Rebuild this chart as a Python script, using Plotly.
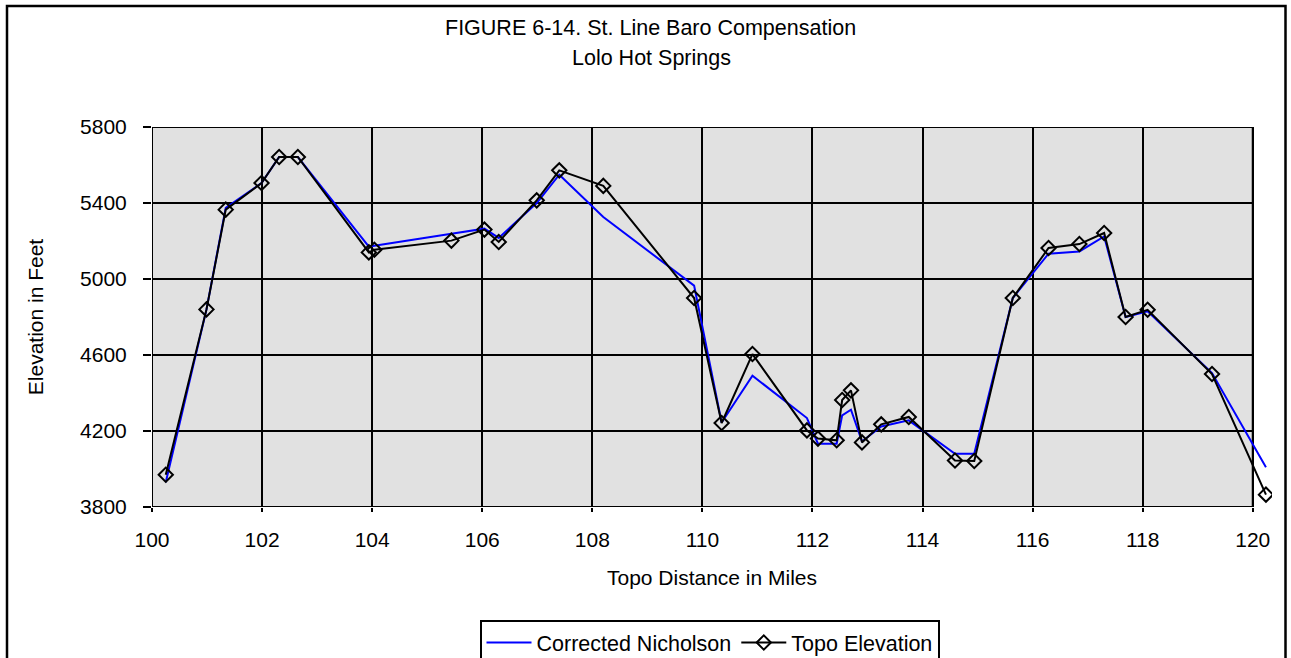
import plotly.graph_objects as go

# Distance along the route (miles) for each surveyed point
miles = [100.25, 100.99, 101.34, 101.99, 102.31, 102.65, 103.94, 104.04, 105.44,
         106.04, 106.30, 106.99, 107.40, 108.20, 109.85, 110.35, 110.91, 111.90,
         112.10, 112.44, 112.54, 112.70, 112.90, 113.25, 113.75, 114.59, 114.94,
         115.64, 116.29, 116.85, 117.30, 117.69, 118.09, 119.26, 120.24]

# Barometric elevation after straight-line compensation (feet)
corrected_nicholson = [3930, 4840, 5375, 5505, 5642, 5642, 5170, 5175, 5238,
                       5265, 5216, 5400, 5549, 5326, 4965, 4245, 4491, 4268,
                       4133, 4133, 4282, 4312, 4145, 4224, 4256, 4080, 4080,
                       4900, 5133, 5145, 5224, 4800, 4830, 4505, 4009]

topo_elevation = [3970, 4840, 5365, 5505, 5642, 5642, 5140, 5154, 5202,
                  5260, 5195, 5414, 5572, 5490, 4900, 4242, 4605, 4203,
                  4160, 4151, 4363, 4414, 4140, 4235, 4274, 4045, 4042,
                  4900, 5163, 5184, 5242, 4800, 4838, 4500, 3865]

x_ticks = [100, 102, 104, 106, 108, 110, 112, 114, 116, 118, 120]
y_ticks = [3800, 4200, 4600, 5000, 5400, 5800]

title_lines = ["FIGURE 6-14. St. Line Baro Compensation", "Lolo Hot Springs"]

FONT = "Liberation Sans, Arial, Helvetica, sans-serif"
W, H = 1291, 658
ML, MR, MT, MB = 152, 19, 127, 151
X_RANGE = [100, 120.35]
Y_RANGE = [3800, 5800]
plot_w = W - ML - MR
plot_h = H - MT - MB


def px_x(px):
    return (px - ML) / plot_w


def px_y(py):
    return (H - MB - py) / plot_h


fig = go.Figure()

fig.add_trace(go.Scatter(
    x=miles, y=corrected_nicholson, mode="lines", name="Corrected Nicholson",
    line=dict(color="#0000ff", width=2),
))
fig.add_trace(go.Scatter(
    x=miles, y=topo_elevation, mode="lines+markers", name="Topo Elevation",
    line=dict(color="#000000", width=2),
    marker=dict(symbol="diamond-open", size=11, color="#000000",
                line=dict(color="#000000", width=2)),
))

shapes = [
    # grey plot area framed in black (ends at 120 mi)
    dict(type="rect", xref="x", yref="y", x0=x_ticks[0], x1=x_ticks[-1],
         y0=y_ticks[0], y1=y_ticks[-1], fillcolor="#e1e1e1",
         line=dict(color="#000000", width=2), layer="below"),
]
# horizontal grid lines limited to the grey area
for yv in y_ticks[1:-1]:
    shapes.append(dict(type="line", xref="x", yref="y", x0=x_ticks[0], x1=x_ticks[-1],
                       y0=yv, y1=yv, line=dict(color="#000000", width=2), layer="below"))
# outer chart border
shapes.append(dict(type="rect", xref="paper", yref="paper",
                   x0=px_x(7), x1=px_x(1285.5), y0=px_y(720), y1=px_y(6),
                   line=dict(color="#000000", width=2.5), fillcolor="rgba(0,0,0,0)"))

annotations = [
    dict(text=title_lines[0], xref="paper", yref="paper", x=px_x(650), y=px_y(27.5),
         xanchor="center", yanchor="middle", showarrow=False,
         font=dict(family=FONT, size=21.5, color="#000000")),
    dict(text=title_lines[1], xref="paper", yref="paper", x=px_x(651), y=px_y(57.5),
         xanchor="center", yanchor="middle", showarrow=False,
         font=dict(family=FONT, size=21.5, color="#000000")),
]

fig.update_layout(
    width=W, height=H,
    margin=dict(l=ML, r=MR, t=MT, b=MB, autoexpand=False),
    paper_bgcolor="#ffffff", plot_bgcolor="rgba(0,0,0,0)",
    font=dict(family=FONT, size=21, color="#000000"),
    shapes=shapes, annotations=annotations,
    showlegend=True,
    legend=dict(orientation="h", x=px_x(709.5), y=px_y(620), xanchor="center", yanchor="top",
                bordercolor="#000000", borderwidth=2, bgcolor="#ffffff",
                font=dict(family=FONT, size=21.5, color="#000000"),
                itemwidth=45, itemclick=False, tracegroupgap=0),
)

fig.update_xaxes(
    range=X_RANGE, tickmode="array", tickvals=x_ticks, ticktext=[str(v) for v in x_ticks],
    showgrid=True, gridcolor="#000000", gridwidth=2, zeroline=False, showline=False,
    ticks="outside", ticklen=4, tickwidth=2, tickcolor="#000000",
    ticklabelstandoff=10,
    title=dict(text="Topo Distance in Miles", standoff=20,
               font=dict(family=FONT, size=21, color="#000000")),
    tickfont=dict(family=FONT, size=21, color="#000000"),
)
fig.update_yaxes(
    range=Y_RANGE, tickmode="array", tickvals=y_ticks, ticktext=[str(v) for v in y_ticks],
    showgrid=False, zeroline=False, showline=False,
    ticks="outside", ticklen=8, tickwidth=2, tickcolor="#000000",
    ticklabelstandoff=12,
    title=dict(text="Elevation in Feet", standoff=30,
               font=dict(family=FONT, size=21, color="#000000")),
    tickfont=dict(family=FONT, size=21, color="#000000"),
)

fig.write_html("out.html")
